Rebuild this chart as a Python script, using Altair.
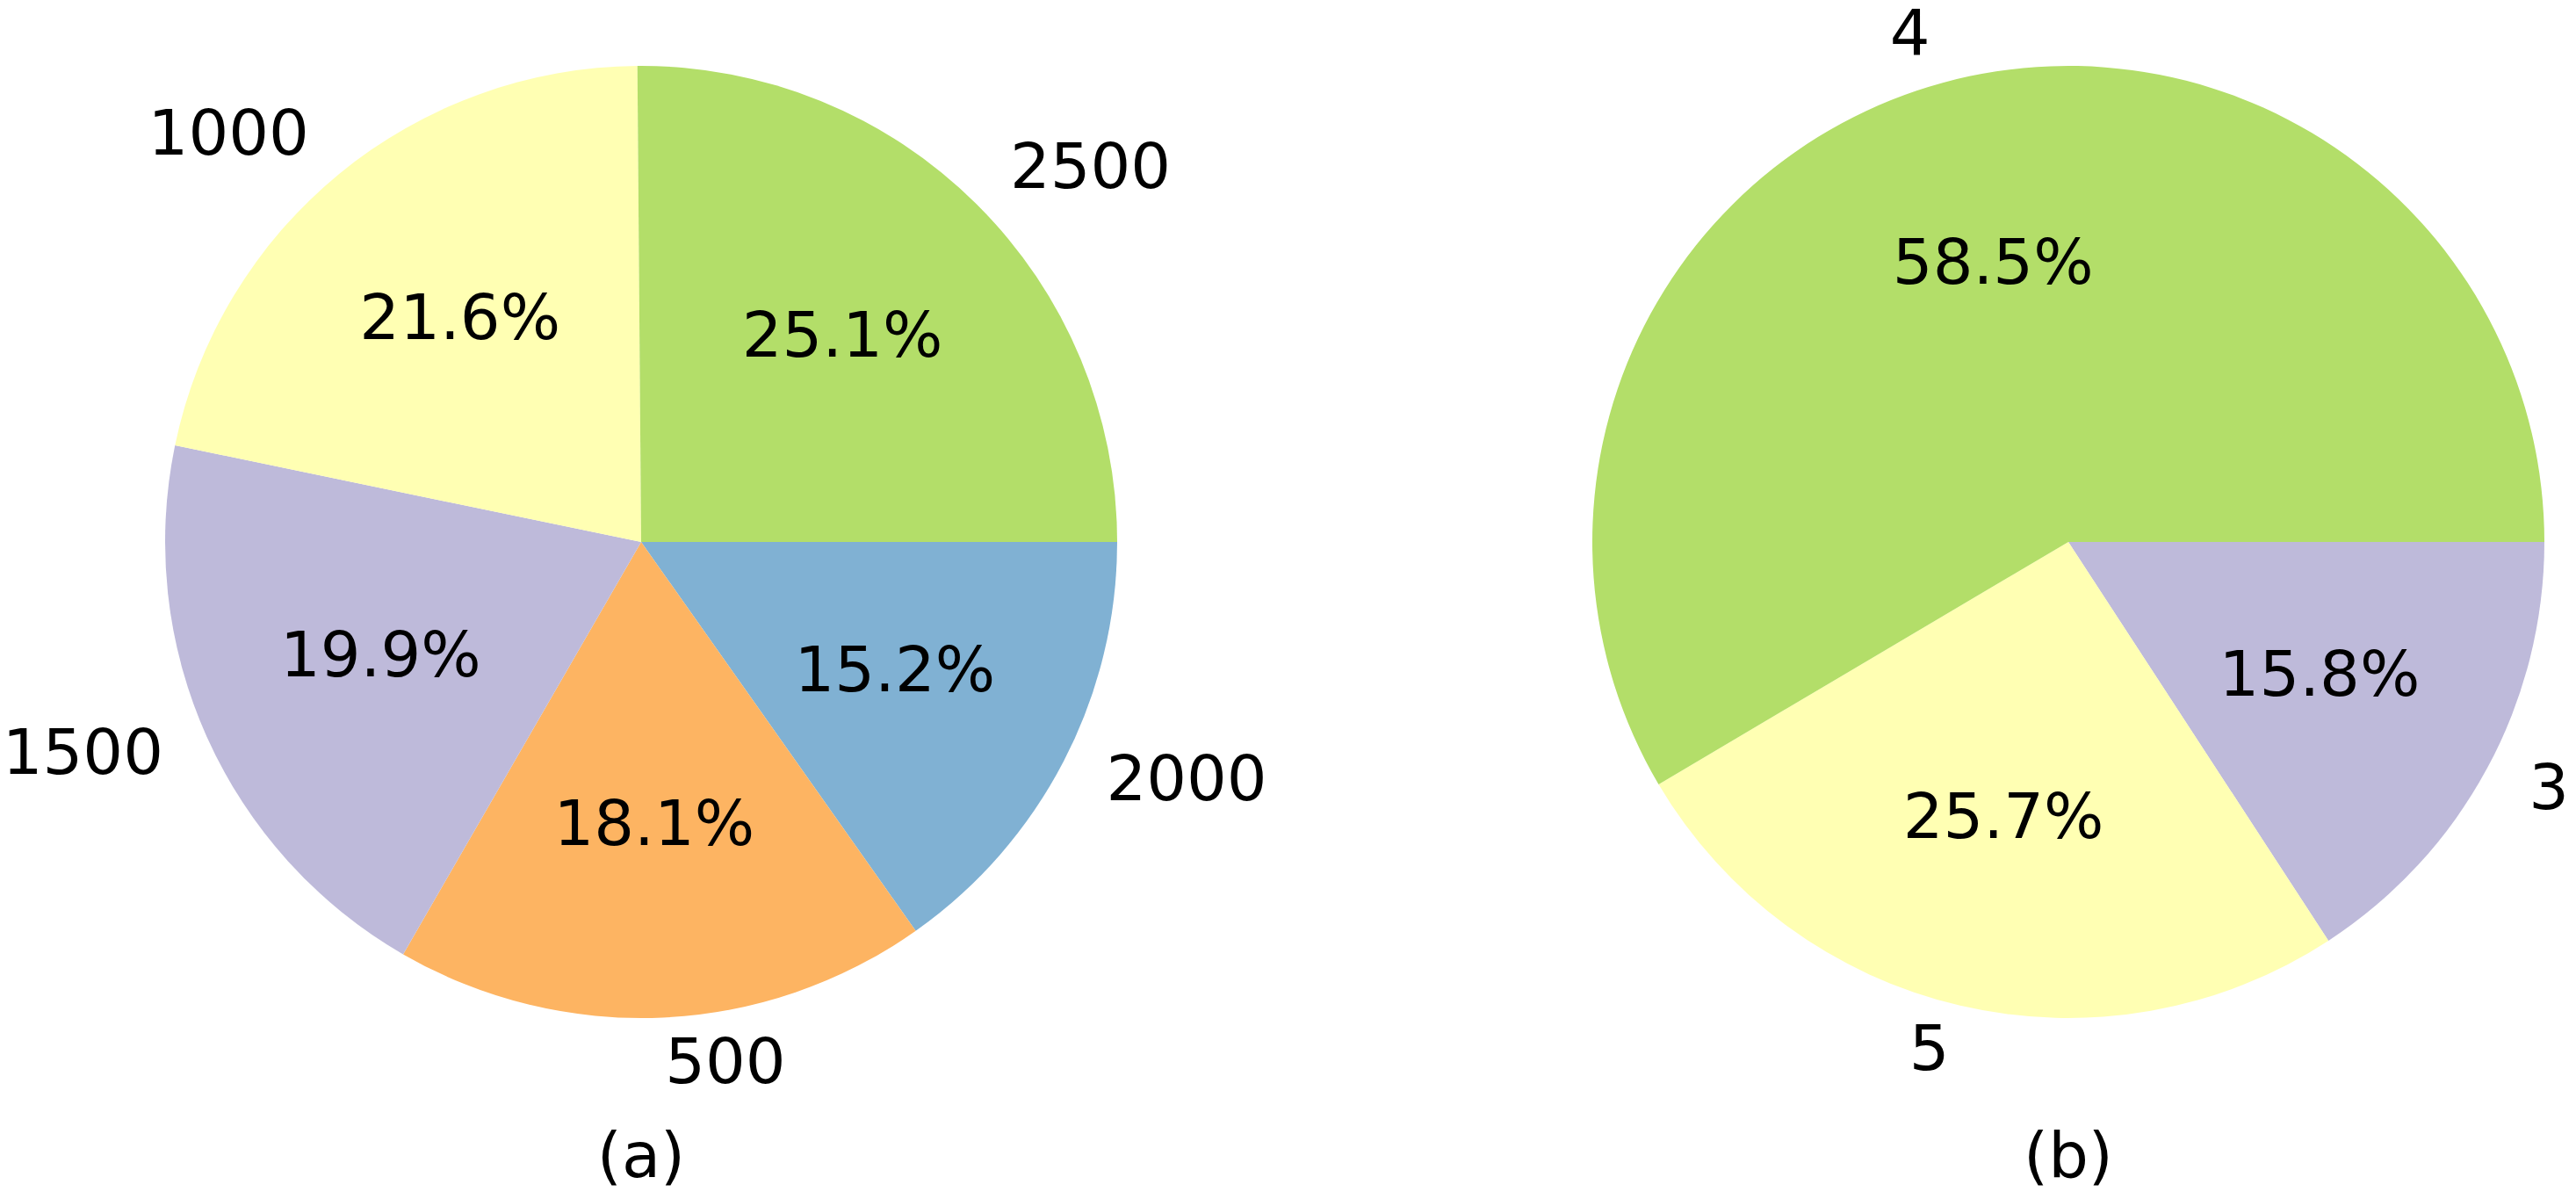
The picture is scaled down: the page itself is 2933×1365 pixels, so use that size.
import math
import altair as alt
import pandas as pd

# ---- data ----
a_labels = ["2000", "500", "1500", "1000", "2500"]
a_values = [15.2, 18.1, 19.9, 21.6, 25.1]
a_colors = ["#80b1d3", "#fdb462", "#bebada", "#ffffb3", "#b3de69"]

b_labels = ["3", "5", "4"]
b_values = [15.8, 25.7, 58.5]
b_colors = ["#bebada", "#ffffb3", "#b3de69"]

captions = ["(a)", "(b)"]

FONT = "DejaVu Sans"
FS = 72
R = 542
START = math.pi / 2  # wedges start at 3 o'clock and go clockwise
THETA_RANGE = [START, START + 2 * math.pi]
PAD = 8
W, H = 2917 - 2 * PAD, 1349 - 2 * PAD
CENTERS = [(722 - PAD, 609 - PAD), (2347 - PAD, 609 - PAD)]
CAPTION_Y = 1332 - PAD


def pie(labels, values, colors, caption, cx, cy):
    total = sum(values)
    df = pd.DataFrame({"label": labels, "value": values})
    base = (
        alt.Chart(df)
        .transform_window(idx="row_number()")
        .transform_joinaggregate(total="sum(value)")
        .transform_window(cum="sum(value)", sort=[alt.SortField("idx")], frame=[None, 0])
        .transform_calculate(
            mid="datum.cum - datum.value / 2",
            pct="datum.value / datum.total",
            ang=f"{START} + 2 * PI * (datum.cum - datum.value / 2) / datum.total",
        )
    )
    tscale = alt.Scale(domain=[0, total], range=THETA_RANGE, zero=True)
    color = alt.Color("label:N", scale=alt.Scale(domain=labels, range=colors), legend=None)
    pos = dict(x=alt.value(cx), y=alt.value(cy))

    arcs = base.mark_arc(radius=R, stroke=None).encode(
        theta=alt.Theta("value:Q", stack=True, scale=tscale),
        color=color,
        order=alt.Order("idx:Q"),
        **pos,
    )
    mid_theta = alt.Theta("mid:Q", stack=None, scale=tscale)

    pct = base.mark_text(
        radius=0.6 * R, font=FONT, fontSize=FS, align="center", baseline="middle", dy=-2, color="black"
    ).encode(theta=mid_theta, text=alt.Text("pct:Q", format=".1%"), **pos)

    outer_r = base.transform_filter("sin(datum.ang) > 0").mark_text(
        radius=1.1 * R, font=FONT, fontSize=FS, align="left", baseline="middle", dy=-2, color="black"
    ).encode(theta=mid_theta, text="label:N", **pos)

    outer_l = base.transform_filter("sin(datum.ang) <= 0").mark_text(
        radius=1.1 * R, font=FONT, fontSize=FS, align="right", baseline="middle", dy=-2, color="black"
    ).encode(theta=mid_theta, text="label:N", **pos)

    cap = alt.Chart(pd.DataFrame({"caption": [caption]})).mark_text(
        font=FONT, fontSize=FS, align="center", baseline="alphabetic", color="black"
    ).encode(text="caption:N", x=alt.value(cx), y=alt.value(CAPTION_Y))

    return [arcs, pct, outer_r, outer_l, cap]


layers = pie(a_labels, a_values, a_colors, captions[0], *CENTERS[0]) + pie(
    b_labels, b_values, b_colors, captions[1], *CENTERS[1]
)

chart = (
    alt.layer(*layers)
    .resolve_scale(color="independent", theta="independent")
    .properties(width=W, height=H, padding=PAD, autosize=alt.AutoSizeParams(type="none"))
    .configure_view(stroke=None)
)

chart.save("out.html", embed_options={"renderer": "svg", "actions": False})
